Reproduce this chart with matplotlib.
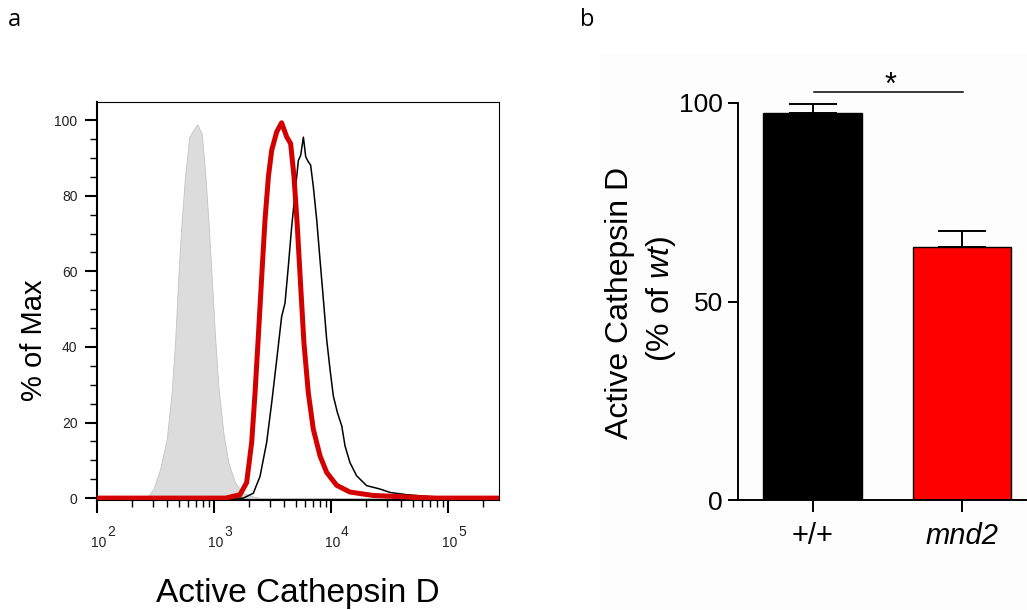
import numpy as np
import matplotlib
matplotlib.use("Agg")
import matplotlib.pyplot as plt
from matplotlib import ticker, transforms
from matplotlib.patches import Rectangle

plt.rcParams['font.family'] = ['Liberation Sans', 'DejaVu Sans']
plt.rcParams['mathtext.fontset'] = 'custom'
plt.rcParams['mathtext.rm'] = 'Liberation Sans'
plt.rcParams['mathtext.it'] = 'Liberation Sans:italic'

# panel a: flow histograms, x given as log10 of intensity, y as % of max
gray_log = [2.0, 2.424, 2.482, 2.539, 2.596, 2.638, 2.667, 2.695, 2.724, 2.752,
            2.789, 2.823, 2.857, 2.895, 2.923, 2.952, 2.980, 3.009, 3.037,
            3.080, 3.123, 3.180, 3.251, 3.336, 3.4, 5.436]
gray_pct = [0, 0, 2.4, 7.7, 15.6, 27.9, 41, 58.7, 73.6, 85,
            95.6, 97.4, 98.9, 96.4, 86.8, 73.6, 58.7, 42.8, 29.6,
            17.3, 9.4, 4.1, 1.3, 0.4, 0, 0]

red_log = [2.0, 3.1, 3.222, 3.279, 3.322, 3.351, 3.379, 3.408, 3.436, 3.465,
           3.493, 3.536, 3.578, 3.621, 3.655, 3.684, 3.712, 3.741, 3.769,
           3.806, 3.849, 3.906, 3.963, 4.048, 4.162, 4.362, 4.647, 4.9, 5.436]
red_pct = [0, 0, 0.9, 4.1, 14.7, 27.9, 42.8, 58.7, 73.6, 85,
           92, 96.9, 99.3, 95.6, 93.8, 85, 72, 56, 41,
           27.9, 18.2, 11.2, 6.8, 3.4, 1.6, 0.7, 0.3, 0, 0]

black_log = [2.0, 3.2, 3.251, 3.336, 3.393, 3.450, 3.493, 3.536, 3.578, 3.607,
             3.635, 3.664, 3.692, 3.721, 3.741, 3.764, 3.784, 3.806, 3.826,
             3.849, 3.878, 3.906, 3.935, 3.963, 3.992, 4.020, 4.055, 4.092,
             4.120, 4.162, 4.219, 4.305, 4.419, 4.504, 4.647, 4.8, 5.0, 5.436]
black_pct = [0, 0, 0, 1.3, 5.7, 14.7, 25.2, 36.6, 48, 51.6,
             61.2, 71.8, 80.5, 89.3, 90.7, 95.5, 90.3, 89, 88.1,
             82.4, 73.6, 63.1, 52.5, 42, 34, 27, 22.6, 19.1,
             13.8, 9.4, 5.9, 3.3, 2.4, 1.5, 0.9, 0.5, 0, 0]

decades = [2, 3, 4, 5]

# panel b: bar chart
genotypes = ['+/+', 'mnd2']
activity = [97.5, 63.8]
sem = [2.2, 3.9]

W, H = 1027, 610
fig = plt.figure(figsize=(W / 100, H / 100), dpi=100)

def px(x, y):
    """ pixel (from top-left) to figure fraction """
    return x / W, 1 - y / H

# faint panel background behind b
fig.patches.append(Rectangle(px(600, H), 1, 1 - 53 / H, transform=fig.transFigure,
                             facecolor='#fdfdfd', edgecolor='none', zorder=-5))

# ---------------- panel a ----------------
ax = fig.add_axes([97 / W, 1 - 500 / H, (499 - 97) / W, (500 - 102) / H])
ax.fill_between(np.power(10.0, gray_log), gray_pct, 0, color='#dcdcdc',
                edgecolor='#c4c4c4', linewidth=0.6, zorder=1)
ax.plot(np.power(10.0, black_log), black_pct, color='black', lw=1.1, zorder=2)
ax.plot(np.power(10.0, red_log), red_pct, color='#d40000', lw=3.6,
        solid_joinstyle='round', zorder=3)

ax.set_xscale('log')
ax.set_xlim(100, 10 ** 5.436)
ax.set_ylim(-0.5, 104.8)
ax.xaxis.set_major_locator(ticker.LogLocator(base=10))
ax.xaxis.set_minor_locator(ticker.LogLocator(base=10, subs=np.arange(2, 10)))
ax.xaxis.set_major_formatter(ticker.NullFormatter())
ax.xaxis.set_minor_formatter(ticker.NullFormatter())
ax.set_yticks(np.arange(0, 101, 20))
ax.yaxis.set_minor_locator(ticker.MultipleLocator(5))
ax.tick_params(axis='both', which='major', direction='out', length=9, width=1.5,
               color='black')
ax.tick_params(axis='both', which='minor', direction='out', length=5, width=1.0,
               color='black')
ax.tick_params(axis='y', labelsize=10, labelcolor='#222222', pad=5)
for side in ['left', 'bottom']:
    ax.spines[side].set_linewidth(1.5)
for side in ['top', 'right']:
    ax.spines[side].set_linewidth(0.8)

# decade labels, FlowJo style: "10" with a separate exponent
for d in decades:
    base_tr = transforms.offset_copy(ax.get_xaxis_transform(), fig=fig,
                                     x=-6 * 0.72, y=-36 * 0.72, units='points')
    ax.text(10 ** d, 0, '10', transform=base_tr, ha='left', va='top',
            fontsize=10, color='#222222')
    exp_tr = transforms.offset_copy(ax.get_xaxis_transform(), fig=fig,
                                    x=10 * 0.72, y=-25 * 0.72, units='points')
    ax.text(10 ** d, 0, str(d), transform=exp_tr, ha='left', va='top',
            fontsize=10, color='#222222')

fig.text(*px(34, 340), '% of Max', rotation=90, ha='center', va='center',
         fontsize=21)
fig.text(*px(298, 602), 'Active Cathepsin D', ha='center', va='baseline',
         fontsize=24)

# ---------------- panel b ----------------
bx = fig.add_axes([738 / W, 1 - 500 / H, (W - 738) / W, 105 * 3.97 / H])
pos = np.arange(len(genotypes))
bx.bar(pos, activity, width=0.664, color=['black', '#ff0000'],
       edgecolor='black', linewidth=1.0, zorder=2)
bx.errorbar(pos, activity, yerr=[np.zeros(len(sem)), sem], fmt='none',
            ecolor='black', elinewidth=1.4, capsize=17.3, capthick=1.4, zorder=1)
bx.set_xlim(-0.503, 1.436)
bx.set_ylim(0, 105)
bx.set_yticks([0, 50, 100])
bx.set_xticks(pos)
bx.set_xticklabels(genotypes)
bx.get_xticklabels()[1].set_style('italic')
for side in ['top', 'right']:
    bx.spines[side].set_visible(False)
for side in ['left', 'bottom']:
    bx.spines[side].set_linewidth(1.4)
bx.spines['left'].set_bounds(0, 100)
bx.tick_params(axis='y', length=7, width=1.4, labelsize=19, pad=4)
bx.tick_params(axis='x', length=8.6, width=1.4, labelsize=21, pad=7)
bx.patch.set_alpha(0)

# significance bar
bx.plot([0.007, 1.007], [102.7, 102.7], color='black', lw=1.1, clip_on=False)
bx.text(0.517, 102.3, '*', ha='center', va='baseline', fontsize=22,
        clip_on=False)

fig.text(*px(620, 303), 'Active Cathepsin D', rotation=90, ha='center',
         va='center', fontsize=23)
fig.text(*px(661, 299), r'(% of $\mathit{wt}$)', rotation=90, ha='center',
         va='center', fontsize=23)

# panel letters
fig.text(*px(14, 20), 'a', ha='center', va='center', fontsize=17,
         family=['Open Sans', 'DejaVu Sans'])
fig.text(*px(587, 20), 'b', ha='center', va='center', fontsize=17,
         family=['Open Sans', 'DejaVu Sans'])

fig.savefig('out.png', dpi=100)
